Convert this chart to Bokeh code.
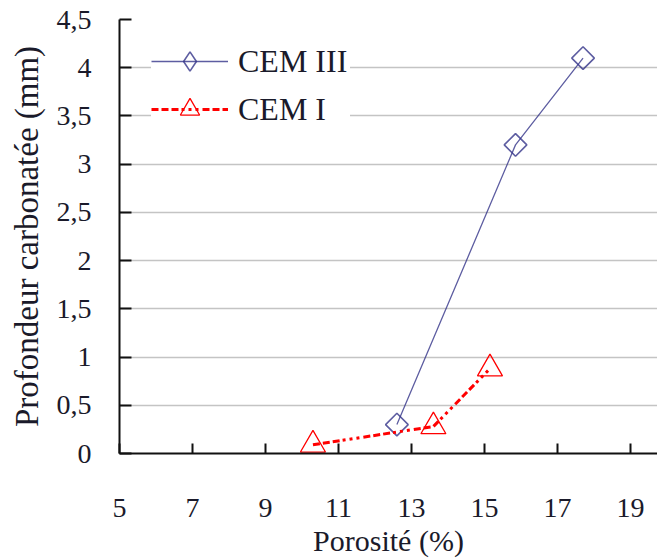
from bokeh.plotting import figure
from bokeh.models import Range1d, FixedTicker, Legend, LegendItem
from bokeh.embed import file_html
from bokeh.resources import INLINE
import math

# Data
porosite_cem3 = [12.6, 15.85, 17.7]
carbo_cem3 = [0.30, 3.20, 4.10]
porosite_cem1 = [10.3, 13.6, 15.15]
carbo_cem1 = [0.09, 0.28, 0.88]

x_ticks = [5, 7, 9, 11, 13, 15, 17, 19]
y_ticks = [0, 0.5, 1, 1.5, 2, 2.5, 3, 3.5, 4, 4.5]
y_tick_labels = {v: ("%g" % v).replace(".", ",") for v in y_ticks}

FONT = "'Liberation Serif', 'Times New Roman', serif"
NAVY = "#35358a"
RED = "#ff0000"

p = figure(width=657, height=559, output_backend="svg", toolbar_location=None,
           x_range=Range1d(5, 19.74), y_range=Range1d(0, 4.5),
           min_border_left=119, min_border_right=0, min_border_top=19, min_border_bottom=102)
p.outline_line_color = None
p.background_fill_color = "white"

# grid
p.xgrid.grid_line_color = None
p.ygrid.grid_line_color = "#c4c4c4"
p.ygrid.grid_line_width = 1.6

# axes
p.xaxis.ticker = FixedTicker(ticks=x_ticks)
p.yaxis.ticker = FixedTicker(ticks=y_ticks)
p.yaxis.major_label_overrides = y_tick_labels
for ax in (p.xaxis[0], p.yaxis[0]):
    ax.axis_line_color = "#111111"
    ax.axis_line_width = 2
    ax.major_tick_line_color = "#111111"
    ax.major_tick_line_width = 2
    ax.major_tick_out = 0
    ax.minor_tick_line_color = None
    ax.major_label_text_font = FONT
    ax.major_label_text_font_size = "28px"
    ax.major_label_text_color = "#1a1a2a"
    ax.axis_label_text_font = FONT
    ax.axis_label_text_font_style = "normal"
    ax.axis_label_text_color = "#1a1a2a"
p.xaxis.major_tick_in = 10
p.yaxis.major_tick_in = 12
p.xaxis.major_label_standoff = 45
p.yaxis.major_label_standoff = 28
p.xaxis.axis_label = "Porosité (%)"
p.yaxis.axis_label = "Profondeur carbonatée (mm)"
p.xaxis.axis_label_text_font_size = "30px"
p.yaxis.axis_label_text_font_size = "33px"
p.xaxis.axis_label_standoff = 4
p.yaxis.axis_label_standoff = 9

# series
l3 = p.line(porosite_cem3, carbo_cem3, line_color=NAVY, line_width=1.3, line_alpha=0.8)
m3 = p.scatter(porosite_cem3, carbo_cem3, marker="square", angle=math.pi / 4, size=16,
               fill_color=None, line_color=NAVY, line_width=1.6, line_alpha=0.8)
# legend-only diamond sample (angle is not kept in legend samples)
m3_leg = p.scatter(porosite_cem3, carbo_cem3, marker="diamond", size=16,
                   fill_color=None, line_color=NAVY, line_width=1.6, line_alpha=0.8, visible=False)
l1 = p.line(porosite_cem1, carbo_cem1, line_color=RED, line_width=3,
            line_dash="7 3 7 3 7 3 3 4 3 4 3 4")
m1 = p.scatter(porosite_cem1, carbo_cem1, marker="triangle", size=25,
               fill_color=None, line_color=RED, line_width=1.3)

legend = Legend(items=[LegendItem(label="CEM III", renderers=[l3, m3_leg]),
                       LegendItem(label="CEM I", renderers=[l1, m1])],
                location=(32, 320), padding=10, margin=0, spacing=0,
                glyph_width=77, glyph_height=48, label_height=40, label_standoff=10, label_width=112,
                label_text_font=FONT, label_text_font_size="32px", label_text_color="#1a1a2a",
                border_line_color=None, background_fill_color="white", background_fill_alpha=1.0,
                inactive_fill_alpha=0.0)
p.add_layout(legend)

open("out.html", "w").write(file_html(p, INLINE))
